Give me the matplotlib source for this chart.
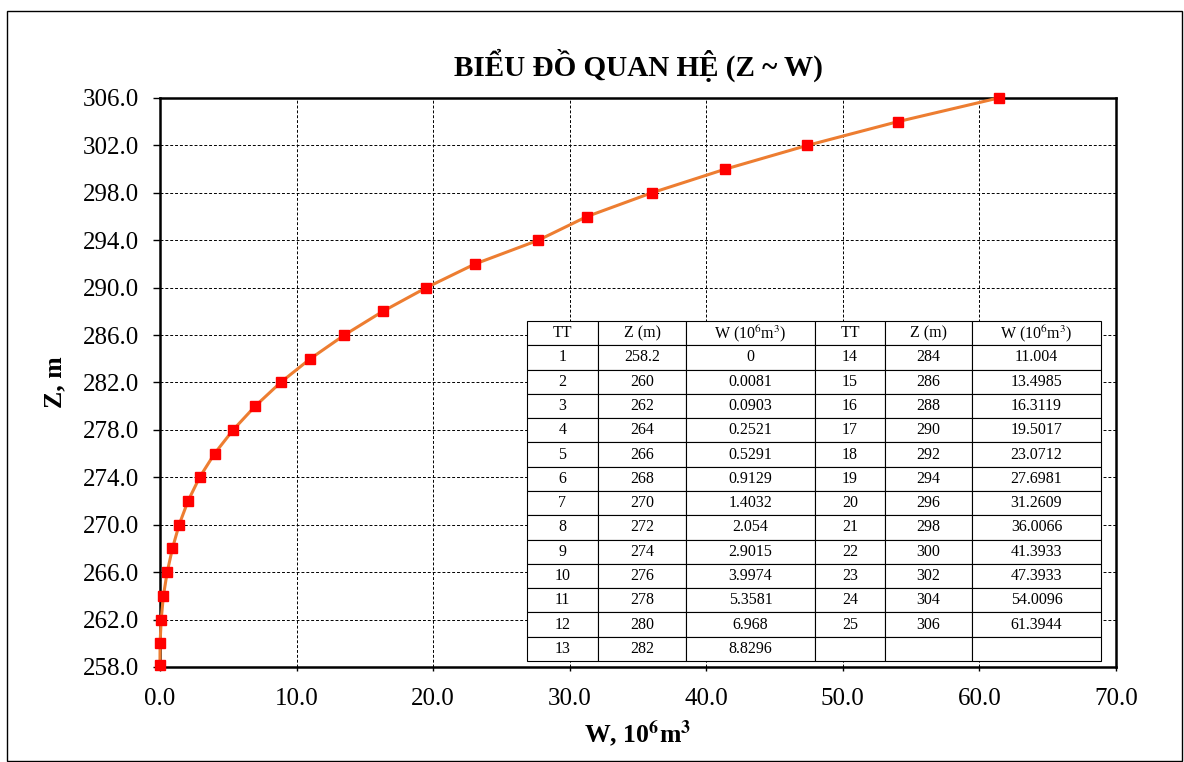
import matplotlib
matplotlib.use("Agg")
from matplotlib import pyplot as plt
from matplotlib.patches import Rectangle

# data: storage curve Z ~ W
tt = list(range(1, 26))
z_vals = [258.2, 260, 262, 264, 266, 268, 270, 272, 274, 276, 278, 280, 282,
          284, 286, 288, 290, 292, 294, 296, 298, 300, 302, 304, 306]
w_vals = [0, 0.0081, 0.0903, 0.2521, 0.5291, 0.9129, 1.4032, 2.054, 2.9015,
          3.9974, 5.3581, 6.968, 8.8296, 11.004, 13.4985, 16.3119, 19.5017,
          23.0712, 27.6981, 31.2609, 36.0066, 41.3933, 47.3933, 54.0096, 61.3944]
w_text = ["0", "0.0081", "0.0903", "0.2521", "0.5291", "0.9129", "1.4032",
          "2.054", "2.9015", "3.9974", "5.3581", "6.968", "8.8296", "11.004",
          "13.4985", "16.3119", "19.5017", "23.0712", "27.6981", "31.2609",
          "36.0066", "41.3933", "47.3933", "54.0096", "61.3944"]
x_ticks = [0, 10, 20, 30, 40, 50, 60, 70]
y_ticks = [258, 262, 266, 270, 274, 278, 282, 286, 290, 294, 298, 302, 306]

plt.rcParams["font.family"] = ["Liberation Serif", "DejaVu Serif"]
plt.rcParams["mathtext.fontset"] = "stix"

fig = plt.figure(figsize=(11.84, 7.62), dpi=100)
ax = fig.add_axes([0.1351, 0.1247, 0.8075, 0.7467])

# outer frame
fig.patches.append(Rectangle((7 / 1184, 1 / 762), 1175 / 1184, 750 / 762,
                             transform=fig.transFigure, fill=False,
                             edgecolor="black", linewidth=1.0))

ax.plot(w_vals, z_vals, color="#ED7D31", linewidth=2.2, marker="s",
        markersize=7, markerfacecolor="#FF0000", markeredgecolor="#FF0000",
        zorder=3, clip_on=False)

ax.set_xlim(0, 70)
ax.set_ylim(258, 306)
ax.set_xticks(x_ticks)
ax.set_yticks(y_ticks)
ax.set_xticklabels([f"{v:.1f}" for v in x_ticks])
ax.set_yticklabels([f"{v:.1f}" for v in y_ticks])
ax.tick_params(axis="both", labelsize=18, direction="out", width=1)
ax.tick_params(axis="y", length=5, pad=10)
ax.tick_params(axis="x", length=3, pad=12)
ax.grid(True, linestyle=(0, (3, 2)), color="black", linewidth=0.7)
for s in ax.spines.values():
    s.set_linewidth(1.8)

ax.set_title("BIỂU ĐỒ QUAN HỆ (Z ~ W)", fontsize=21, fontweight="bold", pad=16)
ax.set_xlabel(r"W, 10$^{\mathbf{6}}$m$^{\mathbf{3}}$", fontsize=18.5,
              fontweight="bold", labelpad=6)
ax.set_ylabel("Z, m", fontsize=18.5, fontweight="bold", labelpad=12)

# table of values
head = ["TT", "Z (m)", r"W (10$^6$m$^3$)"] * 2
rows = []
for i in range(13):
    left = [str(tt[i]), f"{z_vals[i]:g}", w_text[i]]
    j = i + 13
    right = [str(tt[j]), f"{z_vals[j]:g}", w_text[j]] if j < len(tt) else ["", "", ""]
    rows.append(left + right)

col_w = [71, 88, 129, 70, 87, 129]
tot = sum(col_w)
tbl = ax.table(cellText=rows, colLabels=head, cellLoc="center",
               colWidths=[c / tot for c in col_w],
               bbox=[0.3839, 0.0105, 0.6004, 0.5975])
tbl.auto_set_font_size(False)
tbl.set_fontsize(11.5)
tbl.set_zorder(5)
for cell in tbl.get_celld().values():
    cell.set_facecolor("white")
    cell.set_edgecolor("black")
    cell.set_linewidth(0.8)

fig.savefig("out.png", dpi=100)
